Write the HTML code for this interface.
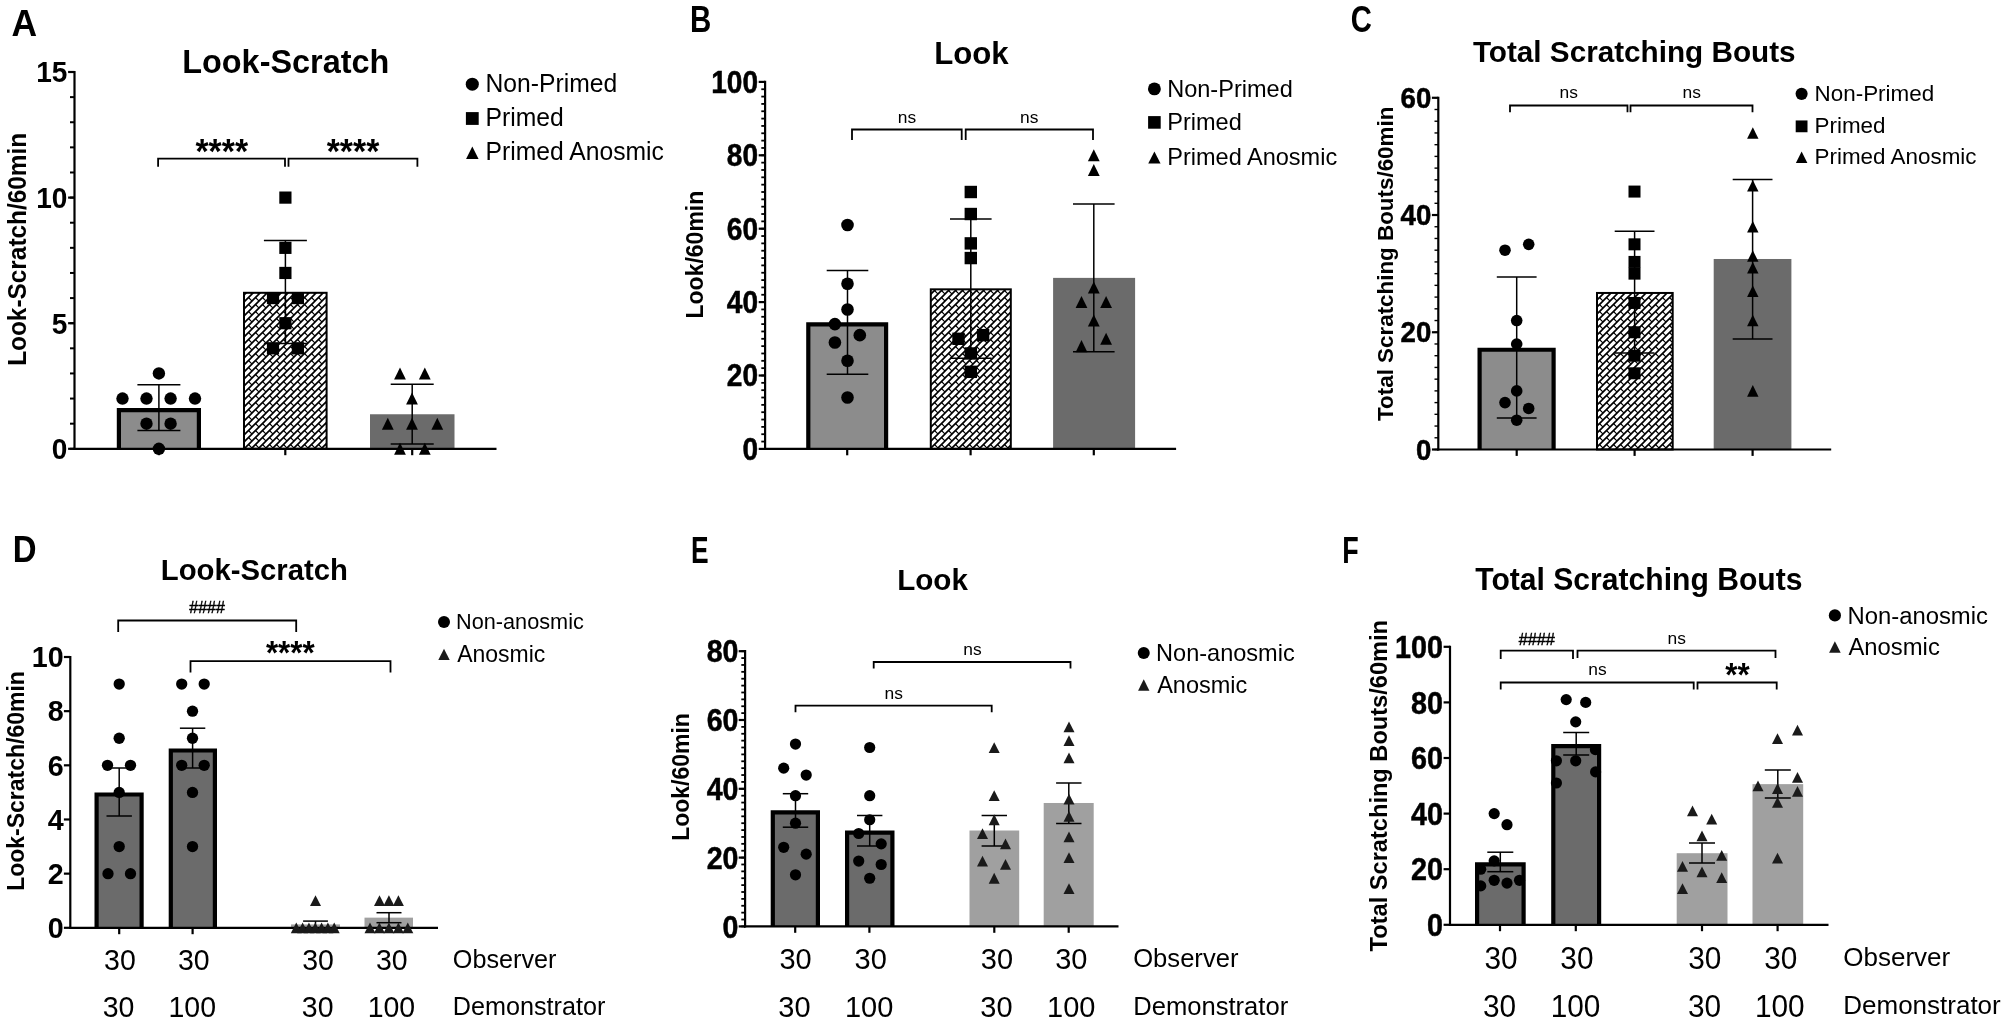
<!DOCTYPE html>
<html lang="en"><head><meta charset="utf-8"><title>Figure</title>
<style>
html,body{margin:0;padding:0;background:#fff;}
body{width:2007px;height:1024px;overflow:hidden;}
svg{display:block;font-family:'Liberation Sans', sans-serif;filter:blur(0.45px);}
</style></head><body>
<svg width="2007" height="1024" viewBox="0 0 2007 1024">
<defs>
<pattern id="hatch" width="7" height="7" patternUnits="userSpaceOnUse">
<rect width="7" height="7" fill="#fff"/>
<path d="M-1 8 L8 -1 M-1 1 L1 -1 M6 8 L8 6" stroke="#000" stroke-width="1.65" fill="none"/>
<path d="M3.5 3.5 L7 7 M-3.5 -3.5 L0 0" stroke="#000" stroke-width="1.15" fill="none"/>
</pattern>
</defs>
<rect width="2007" height="1024" fill="#fff"/>
<g id="panelA">
<rect x="117.80" y="408.98" width="82.20" height="39.82" fill="#8c8c8c"/>
<polyline points="118.90,448.80 118.90,410.08 198.90,410.08 198.90,448.80" fill="none" stroke="#000" stroke-width="4.2"/>
<rect x="244.00" y="292.80" width="82.60" height="156.00" fill="url(#hatch)" stroke="#000" stroke-width="2"/>
<rect x="370.00" y="414.26" width="84.50" height="34.54" fill="#6b6b6b"/>
<line x1="74.50" y1="70.90" x2="74.50" y2="449.90" stroke="#000" stroke-width="2.2" stroke-linecap="butt"/>
<line x1="73.40" y1="448.80" x2="496.50" y2="448.80" stroke="#000" stroke-width="2.2" stroke-linecap="butt"/>
<line x1="68.10" y1="448.80" x2="74.50" y2="448.80" stroke="#000" stroke-width="2.2" stroke-linecap="butt"/>
<text font-size="30.2" font-weight="700" text-anchor="end" fill="#000" transform="translate(67.40 459.19) scale(0.93 1)">0</text>
<line x1="68.10" y1="323.20" x2="74.50" y2="323.20" stroke="#000" stroke-width="2.2" stroke-linecap="butt"/>
<text font-size="30.2" font-weight="700" text-anchor="end" fill="#000" transform="translate(67.40 333.59) scale(0.93 1)">5</text>
<line x1="68.10" y1="197.60" x2="74.50" y2="197.60" stroke="#000" stroke-width="2.2" stroke-linecap="butt"/>
<text font-size="30.2" font-weight="700" text-anchor="end" fill="#000" transform="translate(67.40 207.99) scale(0.93 1)">10</text>
<line x1="68.10" y1="72.00" x2="74.50" y2="72.00" stroke="#000" stroke-width="2.2" stroke-linecap="butt"/>
<text font-size="30.2" font-weight="700" text-anchor="end" fill="#000" transform="translate(67.40 82.39) scale(0.93 1)">15</text>
<line x1="70.00" y1="448.80" x2="74.50" y2="448.80" stroke="#000" stroke-width="2" stroke-linecap="butt"/>
<line x1="70.00" y1="423.68" x2="74.50" y2="423.68" stroke="#000" stroke-width="2" stroke-linecap="butt"/>
<line x1="70.00" y1="398.56" x2="74.50" y2="398.56" stroke="#000" stroke-width="2" stroke-linecap="butt"/>
<line x1="70.00" y1="373.44" x2="74.50" y2="373.44" stroke="#000" stroke-width="2" stroke-linecap="butt"/>
<line x1="70.00" y1="348.32" x2="74.50" y2="348.32" stroke="#000" stroke-width="2" stroke-linecap="butt"/>
<line x1="70.00" y1="323.20" x2="74.50" y2="323.20" stroke="#000" stroke-width="2" stroke-linecap="butt"/>
<line x1="70.00" y1="298.08" x2="74.50" y2="298.08" stroke="#000" stroke-width="2" stroke-linecap="butt"/>
<line x1="70.00" y1="272.96" x2="74.50" y2="272.96" stroke="#000" stroke-width="2" stroke-linecap="butt"/>
<line x1="70.00" y1="247.84" x2="74.50" y2="247.84" stroke="#000" stroke-width="2" stroke-linecap="butt"/>
<line x1="70.00" y1="222.72" x2="74.50" y2="222.72" stroke="#000" stroke-width="2" stroke-linecap="butt"/>
<line x1="70.00" y1="197.60" x2="74.50" y2="197.60" stroke="#000" stroke-width="2" stroke-linecap="butt"/>
<line x1="70.00" y1="172.48" x2="74.50" y2="172.48" stroke="#000" stroke-width="2" stroke-linecap="butt"/>
<line x1="70.00" y1="147.36" x2="74.50" y2="147.36" stroke="#000" stroke-width="2" stroke-linecap="butt"/>
<line x1="70.00" y1="122.24" x2="74.50" y2="122.24" stroke="#000" stroke-width="2" stroke-linecap="butt"/>
<line x1="70.00" y1="97.12" x2="74.50" y2="97.12" stroke="#000" stroke-width="2" stroke-linecap="butt"/>
<line x1="70.00" y1="72.00" x2="74.50" y2="72.00" stroke="#000" stroke-width="2" stroke-linecap="butt"/>
<line x1="158.90" y1="448.80" x2="158.90" y2="455.20" stroke="#000" stroke-width="2.2" stroke-linecap="butt"/>
<line x1="285.30" y1="448.80" x2="285.30" y2="455.20" stroke="#000" stroke-width="2.2" stroke-linecap="butt"/>
<line x1="412.20" y1="448.80" x2="412.20" y2="455.20" stroke="#000" stroke-width="2.2" stroke-linecap="butt"/>
<line x1="158.90" y1="384.70" x2="158.90" y2="430.50" stroke="#000" stroke-width="1.5" stroke-linecap="butt"/>
<line x1="137.40" y1="384.70" x2="180.40" y2="384.70" stroke="#000" stroke-width="1.5" stroke-linecap="butt"/>
<line x1="137.40" y1="430.50" x2="180.40" y2="430.50" stroke="#000" stroke-width="1.5" stroke-linecap="butt"/>
<line x1="285.40" y1="240.40" x2="285.40" y2="343.40" stroke="#000" stroke-width="1.5" stroke-linecap="butt"/>
<line x1="263.90" y1="240.40" x2="306.90" y2="240.40" stroke="#000" stroke-width="1.5" stroke-linecap="butt"/>
<line x1="263.90" y1="343.40" x2="306.90" y2="343.40" stroke="#000" stroke-width="1.5" stroke-linecap="butt"/>
<line x1="412.20" y1="384.20" x2="412.20" y2="443.90" stroke="#000" stroke-width="1.5" stroke-linecap="butt"/>
<line x1="390.70" y1="384.20" x2="433.70" y2="384.20" stroke="#000" stroke-width="1.5" stroke-linecap="butt"/>
<line x1="390.70" y1="443.90" x2="433.70" y2="443.90" stroke="#000" stroke-width="1.5" stroke-linecap="butt"/>
<circle cx="158.90" cy="373.44" r="6.20" fill="#000"/>
<circle cx="122.50" cy="398.56" r="6.20" fill="#000"/>
<circle cx="146.50" cy="398.56" r="6.20" fill="#000"/>
<circle cx="170.60" cy="398.56" r="6.20" fill="#000"/>
<circle cx="195.00" cy="398.56" r="6.20" fill="#000"/>
<circle cx="146.50" cy="423.68" r="6.20" fill="#000"/>
<circle cx="170.60" cy="423.68" r="6.20" fill="#000"/>
<circle cx="158.90" cy="448.80" r="6.20" fill="#000"/>
<rect x="279.30" y="191.50" width="12.20" height="12.20" fill="#000"/>
<rect x="279.30" y="241.74" width="12.20" height="12.20" fill="#000"/>
<rect x="279.30" y="266.86" width="12.20" height="12.20" fill="#000"/>
<rect x="266.90" y="291.98" width="12.20" height="12.20" fill="#000"/>
<rect x="291.80" y="291.98" width="12.20" height="12.20" fill="#000"/>
<rect x="279.30" y="317.10" width="12.20" height="12.20" fill="#000"/>
<rect x="266.90" y="342.22" width="12.20" height="12.20" fill="#000"/>
<rect x="291.80" y="342.22" width="12.20" height="12.20" fill="#000"/>
<polygon points="394.10,379.46 405.90,379.46 400.00,367.42" fill="#000"/>
<polygon points="418.90,379.46 430.70,379.46 424.80,367.42" fill="#000"/>
<polygon points="406.10,404.58 417.90,404.58 412.00,392.54" fill="#000"/>
<polygon points="381.90,429.70 393.70,429.70 387.80,417.66" fill="#000"/>
<polygon points="406.10,429.70 417.90,429.70 412.00,417.66" fill="#000"/>
<polygon points="431.40,429.70 443.20,429.70 437.30,417.66" fill="#000"/>
<polygon points="394.10,454.82 405.90,454.82 400.00,442.78" fill="#000"/>
<polygon points="418.90,454.82 430.70,454.82 424.80,442.78" fill="#000"/>
<polyline points="158.10,166.80 158.10,158.70 285.00,158.70 285.00,166.80" fill="none" stroke="#000" stroke-width="1.8"/>
<polyline points="288.50,166.80 288.50,158.70 417.40,158.70 417.40,166.80" fill="none" stroke="#000" stroke-width="1.8"/>
<text font-size="33.8" font-weight="700" text-anchor="middle" fill="#000" transform="translate(221.75 162.70) scale(1 1.04)">****</text>
<text font-size="33.8" font-weight="700" text-anchor="middle" fill="#000" transform="translate(353.00 162.70) scale(1 1.04)">****</text>
<text font-size="32.4" font-weight="700" text-anchor="middle" fill="#000" transform="translate(285.75 72.60) scale(1 1.02)">Look-Scratch</text>
<text font-size="24.4" font-weight="700" text-anchor="middle" fill="#000" transform="translate(26.30 249.30) rotate(-90) scale(1 1.02)">Look-Scratch/60min</text>
<text font-size="36.6" font-weight="700" text-anchor="start" fill="#000" transform="translate(11.60 35.70) scale(0.97 1)">A</text>
<circle cx="472.30" cy="84.20" r="6.55" fill="#000"/>
<text font-size="24.7" text-anchor="start" fill="#000" transform="translate(485.50 91.85) scale(1 1.02)">Non-Primed</text>
<rect x="465.90" y="112.10" width="12.80" height="12.80" fill="#000"/>
<text font-size="24.7" text-anchor="start" fill="#000" transform="translate(485.50 126.20) scale(1 1.02)">Primed</text>
<polygon points="466.05,159.00 478.55,159.00 472.30,146.60" fill="#000"/>
<text font-size="24.7" text-anchor="start" fill="#000" transform="translate(485.50 160.40) scale(1 1.02)">Primed Anosmic</text>
</g>
<g id="panelB">
<rect x="807.20" y="323.28" width="80.00" height="125.62" fill="#8c8c8c"/>
<polyline points="808.30,448.90 808.30,324.38 886.10,324.38 886.10,448.90" fill="none" stroke="#000" stroke-width="4.2"/>
<rect x="930.80" y="289.34" width="80.00" height="159.56" fill="url(#hatch)" stroke="#000" stroke-width="2"/>
<rect x="1053.10" y="277.88" width="82.00" height="171.02" fill="#6b6b6b"/>
<line x1="765.10" y1="80.80" x2="765.10" y2="450.00" stroke="#000" stroke-width="2.2" stroke-linecap="butt"/>
<line x1="764.00" y1="448.90" x2="1176.10" y2="448.90" stroke="#000" stroke-width="2.2" stroke-linecap="butt"/>
<line x1="758.70" y1="448.90" x2="765.10" y2="448.90" stroke="#000" stroke-width="2.2" stroke-linecap="butt"/>
<text font-size="30.7" font-weight="700" text-anchor="end" fill="#000" stroke="#000" stroke-width="0.5" transform="translate(758.10 459.76) scale(0.915 1)">0</text>
<line x1="758.70" y1="375.50" x2="765.10" y2="375.50" stroke="#000" stroke-width="2.2" stroke-linecap="butt"/>
<text font-size="30.7" font-weight="700" text-anchor="end" fill="#000" stroke="#000" stroke-width="0.5" transform="translate(758.10 386.36) scale(0.915 1)">20</text>
<line x1="758.70" y1="302.10" x2="765.10" y2="302.10" stroke="#000" stroke-width="2.2" stroke-linecap="butt"/>
<text font-size="30.7" font-weight="700" text-anchor="end" fill="#000" stroke="#000" stroke-width="0.5" transform="translate(758.10 312.96) scale(0.915 1)">40</text>
<line x1="758.70" y1="228.70" x2="765.10" y2="228.70" stroke="#000" stroke-width="2.2" stroke-linecap="butt"/>
<text font-size="30.7" font-weight="700" text-anchor="end" fill="#000" stroke="#000" stroke-width="0.5" transform="translate(758.10 239.56) scale(0.915 1)">60</text>
<line x1="758.70" y1="155.30" x2="765.10" y2="155.30" stroke="#000" stroke-width="2.2" stroke-linecap="butt"/>
<text font-size="30.7" font-weight="700" text-anchor="end" fill="#000" stroke="#000" stroke-width="0.5" transform="translate(758.10 166.16) scale(0.915 1)">80</text>
<line x1="758.70" y1="81.90" x2="765.10" y2="81.90" stroke="#000" stroke-width="2.2" stroke-linecap="butt"/>
<text font-size="30.7" font-weight="700" text-anchor="end" fill="#000" stroke="#000" stroke-width="0.5" transform="translate(758.10 92.76) scale(0.915 1)">100</text>
<line x1="761.30" y1="448.90" x2="765.10" y2="448.90" stroke="#000" stroke-width="1.8" stroke-linecap="butt"/>
<line x1="761.30" y1="441.56" x2="765.10" y2="441.56" stroke="#000" stroke-width="1.8" stroke-linecap="butt"/>
<line x1="761.30" y1="434.22" x2="765.10" y2="434.22" stroke="#000" stroke-width="1.8" stroke-linecap="butt"/>
<line x1="761.30" y1="426.88" x2="765.10" y2="426.88" stroke="#000" stroke-width="1.8" stroke-linecap="butt"/>
<line x1="761.30" y1="419.54" x2="765.10" y2="419.54" stroke="#000" stroke-width="1.8" stroke-linecap="butt"/>
<line x1="761.30" y1="412.20" x2="765.10" y2="412.20" stroke="#000" stroke-width="1.8" stroke-linecap="butt"/>
<line x1="761.30" y1="404.86" x2="765.10" y2="404.86" stroke="#000" stroke-width="1.8" stroke-linecap="butt"/>
<line x1="761.30" y1="397.52" x2="765.10" y2="397.52" stroke="#000" stroke-width="1.8" stroke-linecap="butt"/>
<line x1="761.30" y1="390.18" x2="765.10" y2="390.18" stroke="#000" stroke-width="1.8" stroke-linecap="butt"/>
<line x1="761.30" y1="382.84" x2="765.10" y2="382.84" stroke="#000" stroke-width="1.8" stroke-linecap="butt"/>
<line x1="761.30" y1="375.50" x2="765.10" y2="375.50" stroke="#000" stroke-width="1.8" stroke-linecap="butt"/>
<line x1="761.30" y1="368.16" x2="765.10" y2="368.16" stroke="#000" stroke-width="1.8" stroke-linecap="butt"/>
<line x1="761.30" y1="360.82" x2="765.10" y2="360.82" stroke="#000" stroke-width="1.8" stroke-linecap="butt"/>
<line x1="761.30" y1="353.48" x2="765.10" y2="353.48" stroke="#000" stroke-width="1.8" stroke-linecap="butt"/>
<line x1="761.30" y1="346.14" x2="765.10" y2="346.14" stroke="#000" stroke-width="1.8" stroke-linecap="butt"/>
<line x1="761.30" y1="338.80" x2="765.10" y2="338.80" stroke="#000" stroke-width="1.8" stroke-linecap="butt"/>
<line x1="761.30" y1="331.46" x2="765.10" y2="331.46" stroke="#000" stroke-width="1.8" stroke-linecap="butt"/>
<line x1="761.30" y1="324.12" x2="765.10" y2="324.12" stroke="#000" stroke-width="1.8" stroke-linecap="butt"/>
<line x1="761.30" y1="316.78" x2="765.10" y2="316.78" stroke="#000" stroke-width="1.8" stroke-linecap="butt"/>
<line x1="761.30" y1="309.44" x2="765.10" y2="309.44" stroke="#000" stroke-width="1.8" stroke-linecap="butt"/>
<line x1="761.30" y1="302.10" x2="765.10" y2="302.10" stroke="#000" stroke-width="1.8" stroke-linecap="butt"/>
<line x1="761.30" y1="294.76" x2="765.10" y2="294.76" stroke="#000" stroke-width="1.8" stroke-linecap="butt"/>
<line x1="761.30" y1="287.42" x2="765.10" y2="287.42" stroke="#000" stroke-width="1.8" stroke-linecap="butt"/>
<line x1="761.30" y1="280.08" x2="765.10" y2="280.08" stroke="#000" stroke-width="1.8" stroke-linecap="butt"/>
<line x1="761.30" y1="272.74" x2="765.10" y2="272.74" stroke="#000" stroke-width="1.8" stroke-linecap="butt"/>
<line x1="761.30" y1="265.40" x2="765.10" y2="265.40" stroke="#000" stroke-width="1.8" stroke-linecap="butt"/>
<line x1="761.30" y1="258.06" x2="765.10" y2="258.06" stroke="#000" stroke-width="1.8" stroke-linecap="butt"/>
<line x1="761.30" y1="250.72" x2="765.10" y2="250.72" stroke="#000" stroke-width="1.8" stroke-linecap="butt"/>
<line x1="761.30" y1="243.38" x2="765.10" y2="243.38" stroke="#000" stroke-width="1.8" stroke-linecap="butt"/>
<line x1="761.30" y1="236.04" x2="765.10" y2="236.04" stroke="#000" stroke-width="1.8" stroke-linecap="butt"/>
<line x1="761.30" y1="228.70" x2="765.10" y2="228.70" stroke="#000" stroke-width="1.8" stroke-linecap="butt"/>
<line x1="761.30" y1="221.36" x2="765.10" y2="221.36" stroke="#000" stroke-width="1.8" stroke-linecap="butt"/>
<line x1="761.30" y1="214.02" x2="765.10" y2="214.02" stroke="#000" stroke-width="1.8" stroke-linecap="butt"/>
<line x1="761.30" y1="206.68" x2="765.10" y2="206.68" stroke="#000" stroke-width="1.8" stroke-linecap="butt"/>
<line x1="761.30" y1="199.34" x2="765.10" y2="199.34" stroke="#000" stroke-width="1.8" stroke-linecap="butt"/>
<line x1="761.30" y1="192.00" x2="765.10" y2="192.00" stroke="#000" stroke-width="1.8" stroke-linecap="butt"/>
<line x1="761.30" y1="184.66" x2="765.10" y2="184.66" stroke="#000" stroke-width="1.8" stroke-linecap="butt"/>
<line x1="761.30" y1="177.32" x2="765.10" y2="177.32" stroke="#000" stroke-width="1.8" stroke-linecap="butt"/>
<line x1="761.30" y1="169.98" x2="765.10" y2="169.98" stroke="#000" stroke-width="1.8" stroke-linecap="butt"/>
<line x1="761.30" y1="162.64" x2="765.10" y2="162.64" stroke="#000" stroke-width="1.8" stroke-linecap="butt"/>
<line x1="761.30" y1="155.30" x2="765.10" y2="155.30" stroke="#000" stroke-width="1.8" stroke-linecap="butt"/>
<line x1="761.30" y1="147.96" x2="765.10" y2="147.96" stroke="#000" stroke-width="1.8" stroke-linecap="butt"/>
<line x1="761.30" y1="140.62" x2="765.10" y2="140.62" stroke="#000" stroke-width="1.8" stroke-linecap="butt"/>
<line x1="761.30" y1="133.28" x2="765.10" y2="133.28" stroke="#000" stroke-width="1.8" stroke-linecap="butt"/>
<line x1="761.30" y1="125.94" x2="765.10" y2="125.94" stroke="#000" stroke-width="1.8" stroke-linecap="butt"/>
<line x1="761.30" y1="118.60" x2="765.10" y2="118.60" stroke="#000" stroke-width="1.8" stroke-linecap="butt"/>
<line x1="761.30" y1="111.26" x2="765.10" y2="111.26" stroke="#000" stroke-width="1.8" stroke-linecap="butt"/>
<line x1="761.30" y1="103.92" x2="765.10" y2="103.92" stroke="#000" stroke-width="1.8" stroke-linecap="butt"/>
<line x1="761.30" y1="96.58" x2="765.10" y2="96.58" stroke="#000" stroke-width="1.8" stroke-linecap="butt"/>
<line x1="761.30" y1="89.24" x2="765.10" y2="89.24" stroke="#000" stroke-width="1.8" stroke-linecap="butt"/>
<line x1="761.30" y1="81.90" x2="765.10" y2="81.90" stroke="#000" stroke-width="1.8" stroke-linecap="butt"/>
<line x1="847.20" y1="448.90" x2="847.20" y2="455.30" stroke="#000" stroke-width="2.2" stroke-linecap="butt"/>
<line x1="970.60" y1="448.90" x2="970.60" y2="455.30" stroke="#000" stroke-width="2.2" stroke-linecap="butt"/>
<line x1="1093.80" y1="448.90" x2="1093.80" y2="455.30" stroke="#000" stroke-width="2.2" stroke-linecap="butt"/>
<line x1="847.50" y1="270.60" x2="847.50" y2="374.30" stroke="#000" stroke-width="1.5" stroke-linecap="butt"/>
<line x1="826.70" y1="270.60" x2="868.30" y2="270.60" stroke="#000" stroke-width="1.5" stroke-linecap="butt"/>
<line x1="826.70" y1="374.30" x2="868.30" y2="374.30" stroke="#000" stroke-width="1.5" stroke-linecap="butt"/>
<line x1="970.80" y1="219.00" x2="970.80" y2="358.20" stroke="#000" stroke-width="1.5" stroke-linecap="butt"/>
<line x1="950.00" y1="219.00" x2="991.60" y2="219.00" stroke="#000" stroke-width="1.5" stroke-linecap="butt"/>
<line x1="950.00" y1="358.20" x2="991.60" y2="358.20" stroke="#000" stroke-width="1.5" stroke-linecap="butt"/>
<line x1="1093.80" y1="204.10" x2="1093.80" y2="351.70" stroke="#000" stroke-width="1.5" stroke-linecap="butt"/>
<line x1="1073.00" y1="204.10" x2="1114.60" y2="204.10" stroke="#000" stroke-width="1.5" stroke-linecap="butt"/>
<line x1="1073.00" y1="351.70" x2="1114.60" y2="351.70" stroke="#000" stroke-width="1.5" stroke-linecap="butt"/>
<circle cx="847.50" cy="225.03" r="6.30" fill="#000"/>
<circle cx="847.50" cy="283.75" r="6.30" fill="#000"/>
<circle cx="847.50" cy="309.44" r="6.30" fill="#000"/>
<circle cx="834.90" cy="324.12" r="6.30" fill="#000"/>
<circle cx="859.80" cy="335.13" r="6.30" fill="#000"/>
<circle cx="834.90" cy="342.47" r="6.30" fill="#000"/>
<circle cx="847.50" cy="360.82" r="6.30" fill="#000"/>
<circle cx="847.50" cy="397.52" r="6.30" fill="#000"/>
<rect x="964.60" y="185.80" width="12.40" height="12.40" fill="#000"/>
<rect x="964.60" y="207.82" width="12.40" height="12.40" fill="#000"/>
<rect x="964.60" y="237.18" width="12.40" height="12.40" fill="#000"/>
<rect x="964.60" y="251.86" width="12.40" height="12.40" fill="#000"/>
<rect x="976.90" y="328.93" width="12.40" height="12.40" fill="#000"/>
<rect x="952.30" y="332.60" width="12.40" height="12.40" fill="#000"/>
<rect x="964.60" y="347.28" width="12.40" height="12.40" fill="#000"/>
<rect x="964.60" y="365.63" width="12.40" height="12.40" fill="#000"/>
<polygon points="1087.90,161.32 1099.70,161.32 1093.80,149.28" fill="#000"/>
<polygon points="1087.90,176.00 1099.70,176.00 1093.80,163.96" fill="#000"/>
<polygon points="1087.90,293.44 1099.70,293.44 1093.80,281.40" fill="#000"/>
<polygon points="1075.60,308.12 1087.40,308.12 1081.50,296.08" fill="#000"/>
<polygon points="1100.20,308.12 1112.00,308.12 1106.10,296.08" fill="#000"/>
<polygon points="1087.90,326.47 1099.70,326.47 1093.80,314.43" fill="#000"/>
<polygon points="1100.20,344.82 1112.00,344.82 1106.10,332.78" fill="#000"/>
<polygon points="1075.60,352.16 1087.40,352.16 1081.50,340.12" fill="#000"/>
<polyline points="852.00,140.00 852.00,129.50 961.70,129.50 961.70,140.00" fill="none" stroke="#000" stroke-width="1.8"/>
<polyline points="965.70,140.00 965.70,129.50 1093.00,129.50 1093.00,140.00" fill="none" stroke="#000" stroke-width="1.8"/>
<text font-size="17.4" text-anchor="middle" fill="#000" transform="translate(907.00 122.80) scale(1 1)">ns</text>
<text font-size="17.4" text-anchor="middle" fill="#000" transform="translate(1029.20 122.80) scale(1 1)">ns</text>
<text font-size="31.2" font-weight="700" text-anchor="middle" fill="#000" transform="translate(971.40 63.90) scale(1 1.02)">Look</text>
<text font-size="23" font-weight="700" text-anchor="middle" fill="#000" transform="translate(703.00 254.60) rotate(-90) scale(1 1.02)">Look/60min</text>
<text font-size="36.4" font-weight="700" text-anchor="start" fill="#000" transform="translate(690.10 32.10) scale(0.81 1)">B</text>
<circle cx="1154.40" cy="88.90" r="6.45" fill="#000"/>
<text font-size="23.55" text-anchor="start" fill="#000" transform="translate(1167.20 96.50) scale(1 1.02)">Non-Primed</text>
<rect x="1148.10" y="116.10" width="12.60" height="12.60" fill="#000"/>
<text font-size="23.55" text-anchor="start" fill="#000" transform="translate(1167.20 130.10) scale(1 1.02)">Primed</text>
<polygon points="1148.25,163.60 1160.55,163.60 1154.40,151.40" fill="#000"/>
<text font-size="23.55" text-anchor="start" fill="#000" transform="translate(1167.20 164.50) scale(1 1.02)">Primed Anosmic</text>
</g>
<g id="panelC">
<rect x="1478.50" y="348.65" width="76.20" height="100.85" fill="#8c8c8c"/>
<polyline points="1479.60,449.50 1479.60,349.75 1553.60,349.75 1553.60,449.50" fill="none" stroke="#000" stroke-width="4.2"/>
<rect x="1597.00" y="292.96" width="75.70" height="156.54" fill="url(#hatch)" stroke="#000" stroke-width="2"/>
<rect x="1713.70" y="258.99" width="77.70" height="190.51" fill="#6b6b6b"/>
<line x1="1438.30" y1="96.68" x2="1438.30" y2="450.60" stroke="#000" stroke-width="2.2" stroke-linecap="butt"/>
<line x1="1437.20" y1="449.50" x2="1831.20" y2="449.50" stroke="#000" stroke-width="2.2" stroke-linecap="butt"/>
<line x1="1431.90" y1="449.50" x2="1438.30" y2="449.50" stroke="#000" stroke-width="2.2" stroke-linecap="butt"/>
<text font-size="28.8" font-weight="700" text-anchor="end" fill="#000" stroke="#000" stroke-width="0.5" transform="translate(1431.30 459.71) scale(0.96 1)">0</text>
<line x1="1431.90" y1="332.26" x2="1438.30" y2="332.26" stroke="#000" stroke-width="2.2" stroke-linecap="butt"/>
<text font-size="28.8" font-weight="700" text-anchor="end" fill="#000" stroke="#000" stroke-width="0.5" transform="translate(1431.30 342.47) scale(0.96 1)">20</text>
<line x1="1431.90" y1="215.02" x2="1438.30" y2="215.02" stroke="#000" stroke-width="2.2" stroke-linecap="butt"/>
<text font-size="28.8" font-weight="700" text-anchor="end" fill="#000" stroke="#000" stroke-width="0.5" transform="translate(1431.30 225.23) scale(0.96 1)">40</text>
<line x1="1431.90" y1="97.78" x2="1438.30" y2="97.78" stroke="#000" stroke-width="2.2" stroke-linecap="butt"/>
<text font-size="28.8" font-weight="700" text-anchor="end" fill="#000" stroke="#000" stroke-width="0.5" transform="translate(1431.30 107.99) scale(0.96 1)">60</text>
<line x1="1434.50" y1="449.50" x2="1438.30" y2="449.50" stroke="#000" stroke-width="1.4" stroke-linecap="butt"/>
<line x1="1434.50" y1="437.78" x2="1438.30" y2="437.78" stroke="#000" stroke-width="1.4" stroke-linecap="butt"/>
<line x1="1434.50" y1="426.05" x2="1438.30" y2="426.05" stroke="#000" stroke-width="1.4" stroke-linecap="butt"/>
<line x1="1434.50" y1="414.33" x2="1438.30" y2="414.33" stroke="#000" stroke-width="1.4" stroke-linecap="butt"/>
<line x1="1434.50" y1="402.60" x2="1438.30" y2="402.60" stroke="#000" stroke-width="1.4" stroke-linecap="butt"/>
<line x1="1434.50" y1="390.88" x2="1438.30" y2="390.88" stroke="#000" stroke-width="1.4" stroke-linecap="butt"/>
<line x1="1434.50" y1="379.16" x2="1438.30" y2="379.16" stroke="#000" stroke-width="1.4" stroke-linecap="butt"/>
<line x1="1434.50" y1="367.43" x2="1438.30" y2="367.43" stroke="#000" stroke-width="1.4" stroke-linecap="butt"/>
<line x1="1434.50" y1="355.71" x2="1438.30" y2="355.71" stroke="#000" stroke-width="1.4" stroke-linecap="butt"/>
<line x1="1434.50" y1="343.98" x2="1438.30" y2="343.98" stroke="#000" stroke-width="1.4" stroke-linecap="butt"/>
<line x1="1434.50" y1="332.26" x2="1438.30" y2="332.26" stroke="#000" stroke-width="1.4" stroke-linecap="butt"/>
<line x1="1434.50" y1="320.54" x2="1438.30" y2="320.54" stroke="#000" stroke-width="1.4" stroke-linecap="butt"/>
<line x1="1434.50" y1="308.81" x2="1438.30" y2="308.81" stroke="#000" stroke-width="1.4" stroke-linecap="butt"/>
<line x1="1434.50" y1="297.09" x2="1438.30" y2="297.09" stroke="#000" stroke-width="1.4" stroke-linecap="butt"/>
<line x1="1434.50" y1="285.36" x2="1438.30" y2="285.36" stroke="#000" stroke-width="1.4" stroke-linecap="butt"/>
<line x1="1434.50" y1="273.64" x2="1438.30" y2="273.64" stroke="#000" stroke-width="1.4" stroke-linecap="butt"/>
<line x1="1434.50" y1="261.92" x2="1438.30" y2="261.92" stroke="#000" stroke-width="1.4" stroke-linecap="butt"/>
<line x1="1434.50" y1="250.19" x2="1438.30" y2="250.19" stroke="#000" stroke-width="1.4" stroke-linecap="butt"/>
<line x1="1434.50" y1="238.47" x2="1438.30" y2="238.47" stroke="#000" stroke-width="1.4" stroke-linecap="butt"/>
<line x1="1434.50" y1="226.74" x2="1438.30" y2="226.74" stroke="#000" stroke-width="1.4" stroke-linecap="butt"/>
<line x1="1434.50" y1="215.02" x2="1438.30" y2="215.02" stroke="#000" stroke-width="1.4" stroke-linecap="butt"/>
<line x1="1434.50" y1="203.30" x2="1438.30" y2="203.30" stroke="#000" stroke-width="1.4" stroke-linecap="butt"/>
<line x1="1434.50" y1="191.57" x2="1438.30" y2="191.57" stroke="#000" stroke-width="1.4" stroke-linecap="butt"/>
<line x1="1434.50" y1="179.85" x2="1438.30" y2="179.85" stroke="#000" stroke-width="1.4" stroke-linecap="butt"/>
<line x1="1434.50" y1="168.12" x2="1438.30" y2="168.12" stroke="#000" stroke-width="1.4" stroke-linecap="butt"/>
<line x1="1434.50" y1="156.40" x2="1438.30" y2="156.40" stroke="#000" stroke-width="1.4" stroke-linecap="butt"/>
<line x1="1434.50" y1="144.68" x2="1438.30" y2="144.68" stroke="#000" stroke-width="1.4" stroke-linecap="butt"/>
<line x1="1434.50" y1="132.95" x2="1438.30" y2="132.95" stroke="#000" stroke-width="1.4" stroke-linecap="butt"/>
<line x1="1434.50" y1="121.23" x2="1438.30" y2="121.23" stroke="#000" stroke-width="1.4" stroke-linecap="butt"/>
<line x1="1434.50" y1="109.50" x2="1438.30" y2="109.50" stroke="#000" stroke-width="1.4" stroke-linecap="butt"/>
<line x1="1434.50" y1="97.78" x2="1438.30" y2="97.78" stroke="#000" stroke-width="1.4" stroke-linecap="butt"/>
<line x1="1516.70" y1="449.50" x2="1516.70" y2="455.90" stroke="#000" stroke-width="2.2" stroke-linecap="butt"/>
<line x1="1634.60" y1="449.50" x2="1634.60" y2="455.90" stroke="#000" stroke-width="2.2" stroke-linecap="butt"/>
<line x1="1752.60" y1="449.50" x2="1752.60" y2="455.90" stroke="#000" stroke-width="2.2" stroke-linecap="butt"/>
<line x1="1516.70" y1="277.00" x2="1516.70" y2="418.00" stroke="#000" stroke-width="1.5" stroke-linecap="butt"/>
<line x1="1496.80" y1="277.00" x2="1536.60" y2="277.00" stroke="#000" stroke-width="1.5" stroke-linecap="butt"/>
<line x1="1496.80" y1="418.00" x2="1536.60" y2="418.00" stroke="#000" stroke-width="1.5" stroke-linecap="butt"/>
<line x1="1634.60" y1="231.20" x2="1634.60" y2="353.00" stroke="#000" stroke-width="1.5" stroke-linecap="butt"/>
<line x1="1614.70" y1="231.20" x2="1654.50" y2="231.20" stroke="#000" stroke-width="1.5" stroke-linecap="butt"/>
<line x1="1614.70" y1="353.00" x2="1654.50" y2="353.00" stroke="#000" stroke-width="1.5" stroke-linecap="butt"/>
<line x1="1752.60" y1="179.50" x2="1752.60" y2="339.00" stroke="#000" stroke-width="1.5" stroke-linecap="butt"/>
<line x1="1732.70" y1="179.50" x2="1772.50" y2="179.50" stroke="#000" stroke-width="1.5" stroke-linecap="butt"/>
<line x1="1732.70" y1="339.00" x2="1772.50" y2="339.00" stroke="#000" stroke-width="1.5" stroke-linecap="butt"/>
<circle cx="1505.00" cy="250.19" r="5.80" fill="#000"/>
<circle cx="1528.70" cy="244.33" r="5.80" fill="#000"/>
<circle cx="1516.70" cy="320.54" r="5.80" fill="#000"/>
<circle cx="1516.70" cy="343.98" r="5.80" fill="#000"/>
<circle cx="1516.70" cy="390.88" r="5.80" fill="#000"/>
<circle cx="1505.00" cy="402.60" r="5.80" fill="#000"/>
<circle cx="1528.70" cy="408.47" r="5.80" fill="#000"/>
<circle cx="1516.70" cy="420.19" r="5.80" fill="#000"/>
<rect x="1628.50" y="185.57" width="12.00" height="12.00" fill="#000"/>
<rect x="1628.50" y="238.33" width="12.00" height="12.00" fill="#000"/>
<rect x="1628.50" y="255.92" width="12.00" height="12.00" fill="#000"/>
<rect x="1628.50" y="267.64" width="12.00" height="12.00" fill="#000"/>
<rect x="1628.50" y="296.95" width="12.00" height="12.00" fill="#000"/>
<rect x="1628.50" y="326.26" width="12.00" height="12.00" fill="#000"/>
<rect x="1628.50" y="349.71" width="12.00" height="12.00" fill="#000"/>
<rect x="1628.50" y="367.29" width="12.00" height="12.00" fill="#000"/>
<polygon points="1747.10,138.77 1758.50,138.77 1752.80,127.14" fill="#000"/>
<polygon points="1747.10,191.52 1758.50,191.52 1752.80,179.90" fill="#000"/>
<polygon points="1747.10,232.56 1758.50,232.56 1752.80,220.93" fill="#000"/>
<polygon points="1747.10,261.87 1758.50,261.87 1752.80,250.24" fill="#000"/>
<polygon points="1747.10,273.59 1758.50,273.59 1752.80,261.96" fill="#000"/>
<polygon points="1747.10,297.04 1758.50,297.04 1752.80,285.41" fill="#000"/>
<polygon points="1747.10,326.35 1758.50,326.35 1752.80,314.72" fill="#000"/>
<polygon points="1747.10,396.69 1758.50,396.69 1752.80,385.07" fill="#000"/>
<polyline points="1510.00,112.30 1510.00,105.50 1627.50,105.50 1627.50,112.30" fill="none" stroke="#000" stroke-width="1.8"/>
<polyline points="1630.50,112.30 1630.50,105.50 1752.50,105.50 1752.50,112.30" fill="none" stroke="#000" stroke-width="1.8"/>
<text font-size="17.4" text-anchor="middle" fill="#000" transform="translate(1568.70 98.30) scale(1 1)">ns</text>
<text font-size="17.4" text-anchor="middle" fill="#000" transform="translate(1691.70 98.30) scale(1 1)">ns</text>
<text font-size="29.7" font-weight="700" text-anchor="middle" fill="#000" transform="translate(1634.25 62.30) scale(1 1.02)">Total Scratching Bouts</text>
<text font-size="22.4" font-weight="700" text-anchor="middle" fill="#000" transform="translate(1393.30 263.80) rotate(-90) scale(1 1.02)">Total Scratching Bouts/60min</text>
<text font-size="37" font-weight="700" text-anchor="start" fill="#000" transform="translate(1350.70 31.70) scale(0.79 1)">C</text>
<circle cx="1801.60" cy="93.85" r="6.05" fill="#000"/>
<text font-size="22.43" text-anchor="start" fill="#000" transform="translate(1814.55 101.30) scale(1 1.02)">Non-Primed</text>
<rect x="1795.70" y="120.45" width="11.80" height="11.80" fill="#000"/>
<text font-size="22.43" text-anchor="start" fill="#000" transform="translate(1814.55 133.30) scale(1 1.02)">Primed</text>
<polygon points="1795.85,162.90 1807.35,162.90 1801.60,151.50" fill="#000"/>
<text font-size="22.43" text-anchor="start" fill="#000" transform="translate(1814.55 163.60) scale(1 1.02)">Primed Anosmic</text>
</g>
<g id="panelD">
<rect x="95.50" y="793.40" width="47.20" height="134.40" fill="#6b6b6b"/>
<polyline points="96.60,927.80 96.60,794.50 141.60,794.50 141.60,927.80" fill="none" stroke="#000" stroke-width="4.2"/>
<rect x="169.70" y="749.39" width="46.30" height="178.40" fill="#6b6b6b"/>
<polyline points="170.80,927.80 170.80,750.50 214.90,750.50 214.90,927.80" fill="none" stroke="#000" stroke-width="4.2"/>
<rect x="291.00" y="924.41" width="49.00" height="3.38" fill="#a0a0a0"/>
<rect x="364.50" y="917.64" width="48.50" height="10.15" fill="#a0a0a0"/>
<line x1="70.30" y1="655.90" x2="70.30" y2="928.90" stroke="#000" stroke-width="2.2" stroke-linecap="butt"/>
<line x1="69.20" y1="927.80" x2="438.00" y2="927.80" stroke="#000" stroke-width="2.2" stroke-linecap="butt"/>
<line x1="63.90" y1="927.80" x2="70.30" y2="927.80" stroke="#000" stroke-width="2.2" stroke-linecap="butt"/>
<text font-size="29.9" font-weight="700" text-anchor="end" fill="#000" transform="translate(63.60 938.09) scale(0.96 1)">0</text>
<line x1="63.90" y1="873.64" x2="70.30" y2="873.64" stroke="#000" stroke-width="2.2" stroke-linecap="butt"/>
<text font-size="29.9" font-weight="700" text-anchor="end" fill="#000" transform="translate(63.60 883.93) scale(0.96 1)">2</text>
<line x1="63.90" y1="819.48" x2="70.30" y2="819.48" stroke="#000" stroke-width="2.2" stroke-linecap="butt"/>
<text font-size="29.9" font-weight="700" text-anchor="end" fill="#000" transform="translate(63.60 829.77) scale(0.96 1)">4</text>
<line x1="63.90" y1="765.32" x2="70.30" y2="765.32" stroke="#000" stroke-width="2.2" stroke-linecap="butt"/>
<text font-size="29.9" font-weight="700" text-anchor="end" fill="#000" transform="translate(63.60 775.61) scale(0.96 1)">6</text>
<line x1="63.90" y1="711.16" x2="70.30" y2="711.16" stroke="#000" stroke-width="2.2" stroke-linecap="butt"/>
<text font-size="29.9" font-weight="700" text-anchor="end" fill="#000" transform="translate(63.60 721.45) scale(0.96 1)">8</text>
<line x1="63.90" y1="657.00" x2="70.30" y2="657.00" stroke="#000" stroke-width="2.2" stroke-linecap="butt"/>
<text font-size="29.9" font-weight="700" text-anchor="end" fill="#000" transform="translate(63.60 667.29) scale(0.96 1)">10</text>
<line x1="119.20" y1="927.80" x2="119.20" y2="934.20" stroke="#000" stroke-width="2.2" stroke-linecap="butt"/>
<line x1="192.60" y1="927.80" x2="192.60" y2="934.20" stroke="#000" stroke-width="2.2" stroke-linecap="butt"/>
<line x1="119.20" y1="768.00" x2="119.20" y2="816.00" stroke="#000" stroke-width="1.5" stroke-linecap="butt"/>
<line x1="106.50" y1="768.00" x2="131.90" y2="768.00" stroke="#000" stroke-width="1.5" stroke-linecap="butt"/>
<line x1="106.50" y1="816.00" x2="131.90" y2="816.00" stroke="#000" stroke-width="1.5" stroke-linecap="butt"/>
<line x1="192.60" y1="728.20" x2="192.60" y2="768.00" stroke="#000" stroke-width="1.5" stroke-linecap="butt"/>
<line x1="179.90" y1="728.20" x2="205.30" y2="728.20" stroke="#000" stroke-width="1.5" stroke-linecap="butt"/>
<line x1="179.90" y1="768.00" x2="205.30" y2="768.00" stroke="#000" stroke-width="1.5" stroke-linecap="butt"/>
<line x1="315.50" y1="921.10" x2="315.50" y2="928.10" stroke="#000" stroke-width="1.5" stroke-linecap="butt"/>
<line x1="303.10" y1="921.10" x2="327.90" y2="921.10" stroke="#000" stroke-width="1.5" stroke-linecap="butt"/>
<line x1="389.00" y1="912.70" x2="389.00" y2="922.70" stroke="#000" stroke-width="1.5" stroke-linecap="butt"/>
<line x1="376.50" y1="912.70" x2="401.50" y2="912.70" stroke="#000" stroke-width="1.5" stroke-linecap="butt"/>
<line x1="376.50" y1="922.70" x2="401.50" y2="922.70" stroke="#000" stroke-width="1.5" stroke-linecap="butt"/>
<circle cx="119.20" cy="684.08" r="5.65" fill="#000"/>
<circle cx="119.20" cy="738.24" r="5.65" fill="#000"/>
<circle cx="107.50" cy="765.32" r="5.65" fill="#000"/>
<circle cx="130.50" cy="765.32" r="5.65" fill="#000"/>
<circle cx="119.20" cy="792.40" r="5.65" fill="#000"/>
<circle cx="119.20" cy="846.56" r="5.65" fill="#000"/>
<circle cx="108.00" cy="873.64" r="5.65" fill="#000"/>
<circle cx="130.50" cy="873.64" r="5.65" fill="#000"/>
<circle cx="181.70" cy="684.08" r="5.65" fill="#000"/>
<circle cx="204.20" cy="684.08" r="5.65" fill="#000"/>
<circle cx="192.50" cy="711.16" r="5.65" fill="#000"/>
<circle cx="192.50" cy="738.24" r="5.65" fill="#000"/>
<circle cx="181.70" cy="765.32" r="5.65" fill="#000"/>
<circle cx="204.20" cy="765.32" r="5.65" fill="#000"/>
<circle cx="192.50" cy="792.40" r="5.65" fill="#000"/>
<circle cx="192.50" cy="846.56" r="5.65" fill="#000"/>
<polygon points="310.00,906.11 321.00,906.11 315.50,895.33" fill="#1a1a1a"/>
<polygon points="290.80,933.19 301.80,933.19 296.30,922.41" fill="#1a1a1a"/>
<polygon points="297.12,933.19 308.12,933.19 302.62,922.41" fill="#1a1a1a"/>
<polygon points="303.44,933.19 314.44,933.19 308.94,922.41" fill="#1a1a1a"/>
<polygon points="309.76,933.19 320.76,933.19 315.26,922.41" fill="#1a1a1a"/>
<polygon points="316.08,933.19 327.08,933.19 321.58,922.41" fill="#1a1a1a"/>
<polygon points="322.40,933.19 333.40,933.19 327.90,922.41" fill="#1a1a1a"/>
<polygon points="328.72,933.19 339.72,933.19 334.22,922.41" fill="#1a1a1a"/>
<polygon points="374.00,906.11 385.00,906.11 379.50,895.33" fill="#1a1a1a"/>
<polygon points="383.40,906.11 394.40,906.11 388.90,895.33" fill="#1a1a1a"/>
<polygon points="392.90,906.11 403.90,906.11 398.40,895.33" fill="#1a1a1a"/>
<polygon points="364.50,933.19 375.50,933.19 370.00,922.41" fill="#1a1a1a"/>
<polygon points="373.90,933.19 384.90,933.19 379.40,922.41" fill="#1a1a1a"/>
<polygon points="383.40,933.19 394.40,933.19 388.90,922.41" fill="#1a1a1a"/>
<polygon points="392.90,933.19 403.90,933.19 398.40,922.41" fill="#1a1a1a"/>
<polygon points="402.30,933.19 413.30,933.19 407.80,922.41" fill="#1a1a1a"/>
<polyline points="118.20,632.00 118.20,620.50 296.20,620.50 296.20,632.00" fill="none" stroke="#000" stroke-width="1.8"/>
<polyline points="190.50,672.50 190.50,661.20 390.50,661.20 390.50,672.50" fill="none" stroke="#000" stroke-width="1.8"/>
<text font-size="16" text-anchor="middle" fill="#000" stroke="#000" stroke-width="0.45" transform="translate(207.10 613.00) scale(1 1.04)">####</text>
<text font-size="31.3" font-weight="700" text-anchor="middle" fill="#000" transform="translate(290.30 664.10) scale(1 1.04)">****</text>
<text font-size="29.3" font-weight="700" text-anchor="middle" fill="#000" transform="translate(254.30 580.10) scale(1 1.02)">Look-Scratch</text>
<text font-size="23" font-weight="700" text-anchor="middle" fill="#000" transform="translate(24.40 781.00) rotate(-90) scale(1 1.02)">Look-Scratch/60min</text>
<text font-size="36.2" font-weight="700" text-anchor="start" fill="#000" transform="translate(12.70 561.90) scale(0.91 1)">D</text>
<circle cx="444.00" cy="622.10" r="6.00" fill="#000"/>
<text font-size="21.7" text-anchor="start" fill="#000" transform="translate(456.05 629.40) scale(1 1.02)">Non-anosmic</text>
<polygon points="438.30,660.05 449.70,660.05 444.00,648.75" fill="#1a1a1a"/>
<text font-size="23.0" text-anchor="start" fill="#000" transform="translate(457.20 662.30) scale(1 1.02)">Anosmic</text>
<text font-size="28.5" text-anchor="middle" fill="#000" transform="translate(119.90 969.50) scale(1 1.04)">30</text>
<text font-size="28.5" text-anchor="middle" fill="#000" transform="translate(193.80 969.50) scale(1 1.04)">30</text>
<text font-size="28.5" text-anchor="middle" fill="#000" transform="translate(318.10 969.50) scale(1 1.04)">30</text>
<text font-size="28.5" text-anchor="middle" fill="#000" transform="translate(391.80 969.50) scale(1 1.04)">30</text>
<text font-size="28.5" text-anchor="middle" fill="#000" transform="translate(118.50 1016.70) scale(1 1.04)">30</text>
<text font-size="28.5" text-anchor="middle" fill="#000" transform="translate(192.30 1016.70) scale(1 1.04)">100</text>
<text font-size="28.5" text-anchor="middle" fill="#000" transform="translate(317.70 1016.70) scale(1 1.04)">30</text>
<text font-size="28.5" text-anchor="middle" fill="#000" transform="translate(391.40 1016.70) scale(1 1.04)">100</text>
<text font-size="25.2" text-anchor="start" fill="#000" transform="translate(452.80 967.80) scale(1 1.02)">Observer</text>
<text font-size="25.2" text-anchor="start" fill="#000" transform="translate(452.80 1014.50) scale(1 1.02)">Demonstrator</text>
</g>
<g id="panelE">
<rect x="771.70" y="811.30" width="47.30" height="115.10" fill="#6b6b6b"/>
<polyline points="772.80,926.40 772.80,812.40 817.90,812.40 817.90,926.40" fill="none" stroke="#000" stroke-width="4.2"/>
<rect x="846.00" y="831.51" width="47.50" height="94.89" fill="#6b6b6b"/>
<polyline points="847.10,926.40 847.10,832.61 892.40,832.61 892.40,926.40" fill="none" stroke="#000" stroke-width="4.2"/>
<rect x="969.50" y="830.51" width="49.70" height="95.89" fill="#a0a0a0"/>
<rect x="1043.70" y="802.99" width="50.00" height="123.41" fill="#a0a0a0"/>
<line x1="745.10" y1="650.10" x2="745.10" y2="927.50" stroke="#000" stroke-width="2.2" stroke-linecap="butt"/>
<line x1="744.00" y1="926.40" x2="1118.50" y2="926.40" stroke="#000" stroke-width="2.2" stroke-linecap="butt"/>
<line x1="738.70" y1="926.40" x2="745.10" y2="926.40" stroke="#000" stroke-width="2.2" stroke-linecap="butt"/>
<text font-size="31.4" font-weight="700" text-anchor="end" fill="#000" stroke="#000" stroke-width="0.5" transform="translate(738.50 937.50) scale(0.91 1)">0</text>
<line x1="738.70" y1="857.60" x2="745.10" y2="857.60" stroke="#000" stroke-width="2.2" stroke-linecap="butt"/>
<text font-size="31.4" font-weight="700" text-anchor="end" fill="#000" stroke="#000" stroke-width="0.5" transform="translate(738.50 868.70) scale(0.91 1)">20</text>
<line x1="738.70" y1="788.80" x2="745.10" y2="788.80" stroke="#000" stroke-width="2.2" stroke-linecap="butt"/>
<text font-size="31.4" font-weight="700" text-anchor="end" fill="#000" stroke="#000" stroke-width="0.5" transform="translate(738.50 799.90) scale(0.91 1)">40</text>
<line x1="738.70" y1="720.00" x2="745.10" y2="720.00" stroke="#000" stroke-width="2.2" stroke-linecap="butt"/>
<text font-size="31.4" font-weight="700" text-anchor="end" fill="#000" stroke="#000" stroke-width="0.5" transform="translate(738.50 731.10) scale(0.91 1)">60</text>
<line x1="738.70" y1="651.20" x2="745.10" y2="651.20" stroke="#000" stroke-width="2.2" stroke-linecap="butt"/>
<text font-size="31.4" font-weight="700" text-anchor="end" fill="#000" stroke="#000" stroke-width="0.5" transform="translate(738.50 662.30) scale(0.91 1)">80</text>
<line x1="741.30" y1="926.40" x2="745.10" y2="926.40" stroke="#000" stroke-width="1.8" stroke-linecap="butt"/>
<line x1="741.30" y1="919.52" x2="745.10" y2="919.52" stroke="#000" stroke-width="1.8" stroke-linecap="butt"/>
<line x1="741.30" y1="912.64" x2="745.10" y2="912.64" stroke="#000" stroke-width="1.8" stroke-linecap="butt"/>
<line x1="741.30" y1="905.76" x2="745.10" y2="905.76" stroke="#000" stroke-width="1.8" stroke-linecap="butt"/>
<line x1="741.30" y1="898.88" x2="745.10" y2="898.88" stroke="#000" stroke-width="1.8" stroke-linecap="butt"/>
<line x1="741.30" y1="892.00" x2="745.10" y2="892.00" stroke="#000" stroke-width="1.8" stroke-linecap="butt"/>
<line x1="741.30" y1="885.12" x2="745.10" y2="885.12" stroke="#000" stroke-width="1.8" stroke-linecap="butt"/>
<line x1="741.30" y1="878.24" x2="745.10" y2="878.24" stroke="#000" stroke-width="1.8" stroke-linecap="butt"/>
<line x1="741.30" y1="871.36" x2="745.10" y2="871.36" stroke="#000" stroke-width="1.8" stroke-linecap="butt"/>
<line x1="741.30" y1="864.48" x2="745.10" y2="864.48" stroke="#000" stroke-width="1.8" stroke-linecap="butt"/>
<line x1="741.30" y1="857.60" x2="745.10" y2="857.60" stroke="#000" stroke-width="1.8" stroke-linecap="butt"/>
<line x1="741.30" y1="850.72" x2="745.10" y2="850.72" stroke="#000" stroke-width="1.8" stroke-linecap="butt"/>
<line x1="741.30" y1="843.84" x2="745.10" y2="843.84" stroke="#000" stroke-width="1.8" stroke-linecap="butt"/>
<line x1="741.30" y1="836.96" x2="745.10" y2="836.96" stroke="#000" stroke-width="1.8" stroke-linecap="butt"/>
<line x1="741.30" y1="830.08" x2="745.10" y2="830.08" stroke="#000" stroke-width="1.8" stroke-linecap="butt"/>
<line x1="741.30" y1="823.20" x2="745.10" y2="823.20" stroke="#000" stroke-width="1.8" stroke-linecap="butt"/>
<line x1="741.30" y1="816.32" x2="745.10" y2="816.32" stroke="#000" stroke-width="1.8" stroke-linecap="butt"/>
<line x1="741.30" y1="809.44" x2="745.10" y2="809.44" stroke="#000" stroke-width="1.8" stroke-linecap="butt"/>
<line x1="741.30" y1="802.56" x2="745.10" y2="802.56" stroke="#000" stroke-width="1.8" stroke-linecap="butt"/>
<line x1="741.30" y1="795.68" x2="745.10" y2="795.68" stroke="#000" stroke-width="1.8" stroke-linecap="butt"/>
<line x1="741.30" y1="788.80" x2="745.10" y2="788.80" stroke="#000" stroke-width="1.8" stroke-linecap="butt"/>
<line x1="741.30" y1="781.92" x2="745.10" y2="781.92" stroke="#000" stroke-width="1.8" stroke-linecap="butt"/>
<line x1="741.30" y1="775.04" x2="745.10" y2="775.04" stroke="#000" stroke-width="1.8" stroke-linecap="butt"/>
<line x1="741.30" y1="768.16" x2="745.10" y2="768.16" stroke="#000" stroke-width="1.8" stroke-linecap="butt"/>
<line x1="741.30" y1="761.28" x2="745.10" y2="761.28" stroke="#000" stroke-width="1.8" stroke-linecap="butt"/>
<line x1="741.30" y1="754.40" x2="745.10" y2="754.40" stroke="#000" stroke-width="1.8" stroke-linecap="butt"/>
<line x1="741.30" y1="747.52" x2="745.10" y2="747.52" stroke="#000" stroke-width="1.8" stroke-linecap="butt"/>
<line x1="741.30" y1="740.64" x2="745.10" y2="740.64" stroke="#000" stroke-width="1.8" stroke-linecap="butt"/>
<line x1="741.30" y1="733.76" x2="745.10" y2="733.76" stroke="#000" stroke-width="1.8" stroke-linecap="butt"/>
<line x1="741.30" y1="726.88" x2="745.10" y2="726.88" stroke="#000" stroke-width="1.8" stroke-linecap="butt"/>
<line x1="741.30" y1="720.00" x2="745.10" y2="720.00" stroke="#000" stroke-width="1.8" stroke-linecap="butt"/>
<line x1="741.30" y1="713.12" x2="745.10" y2="713.12" stroke="#000" stroke-width="1.8" stroke-linecap="butt"/>
<line x1="741.30" y1="706.24" x2="745.10" y2="706.24" stroke="#000" stroke-width="1.8" stroke-linecap="butt"/>
<line x1="741.30" y1="699.36" x2="745.10" y2="699.36" stroke="#000" stroke-width="1.8" stroke-linecap="butt"/>
<line x1="741.30" y1="692.48" x2="745.10" y2="692.48" stroke="#000" stroke-width="1.8" stroke-linecap="butt"/>
<line x1="741.30" y1="685.60" x2="745.10" y2="685.60" stroke="#000" stroke-width="1.8" stroke-linecap="butt"/>
<line x1="741.30" y1="678.72" x2="745.10" y2="678.72" stroke="#000" stroke-width="1.8" stroke-linecap="butt"/>
<line x1="741.30" y1="671.84" x2="745.10" y2="671.84" stroke="#000" stroke-width="1.8" stroke-linecap="butt"/>
<line x1="741.30" y1="664.96" x2="745.10" y2="664.96" stroke="#000" stroke-width="1.8" stroke-linecap="butt"/>
<line x1="741.30" y1="658.08" x2="745.10" y2="658.08" stroke="#000" stroke-width="1.8" stroke-linecap="butt"/>
<line x1="741.30" y1="651.20" x2="745.10" y2="651.20" stroke="#000" stroke-width="1.8" stroke-linecap="butt"/>
<line x1="795.20" y1="926.40" x2="795.20" y2="932.80" stroke="#000" stroke-width="2.2" stroke-linecap="butt"/>
<line x1="869.40" y1="926.40" x2="869.40" y2="932.80" stroke="#000" stroke-width="2.2" stroke-linecap="butt"/>
<line x1="994.30" y1="926.40" x2="994.30" y2="932.80" stroke="#000" stroke-width="2.2" stroke-linecap="butt"/>
<line x1="1068.70" y1="926.40" x2="1068.70" y2="932.80" stroke="#000" stroke-width="2.2" stroke-linecap="butt"/>
<line x1="795.50" y1="793.70" x2="795.50" y2="827.20" stroke="#000" stroke-width="1.5" stroke-linecap="butt"/>
<line x1="782.80" y1="793.70" x2="808.20" y2="793.70" stroke="#000" stroke-width="1.5" stroke-linecap="butt"/>
<line x1="782.80" y1="827.20" x2="808.20" y2="827.20" stroke="#000" stroke-width="1.5" stroke-linecap="butt"/>
<line x1="869.70" y1="815.50" x2="869.70" y2="846.00" stroke="#000" stroke-width="1.5" stroke-linecap="butt"/>
<line x1="857.00" y1="815.50" x2="882.40" y2="815.50" stroke="#000" stroke-width="1.5" stroke-linecap="butt"/>
<line x1="857.00" y1="846.00" x2="882.40" y2="846.00" stroke="#000" stroke-width="1.5" stroke-linecap="butt"/>
<line x1="994.30" y1="815.50" x2="994.30" y2="846.00" stroke="#000" stroke-width="1.5" stroke-linecap="butt"/>
<line x1="981.60" y1="815.50" x2="1007.00" y2="815.50" stroke="#000" stroke-width="1.5" stroke-linecap="butt"/>
<line x1="981.60" y1="846.00" x2="1007.00" y2="846.00" stroke="#000" stroke-width="1.5" stroke-linecap="butt"/>
<line x1="1068.80" y1="783.00" x2="1068.80" y2="823.50" stroke="#000" stroke-width="1.5" stroke-linecap="butt"/>
<line x1="1056.10" y1="783.00" x2="1081.50" y2="783.00" stroke="#000" stroke-width="1.5" stroke-linecap="butt"/>
<line x1="1056.10" y1="823.50" x2="1081.50" y2="823.50" stroke="#000" stroke-width="1.5" stroke-linecap="butt"/>
<circle cx="795.50" cy="744.08" r="5.60" fill="#000"/>
<circle cx="783.70" cy="768.16" r="5.60" fill="#000"/>
<circle cx="806.20" cy="775.04" r="5.60" fill="#000"/>
<circle cx="795.50" cy="795.68" r="5.60" fill="#000"/>
<circle cx="795.50" cy="823.20" r="5.60" fill="#000"/>
<circle cx="783.70" cy="847.28" r="5.60" fill="#000"/>
<circle cx="806.20" cy="854.16" r="5.60" fill="#000"/>
<circle cx="795.50" cy="874.80" r="5.60" fill="#000"/>
<circle cx="869.70" cy="747.52" r="5.60" fill="#000"/>
<circle cx="869.70" cy="795.68" r="5.60" fill="#000"/>
<circle cx="869.70" cy="819.76" r="5.60" fill="#000"/>
<circle cx="858.70" cy="833.52" r="5.60" fill="#000"/>
<circle cx="881.20" cy="843.84" r="5.60" fill="#000"/>
<circle cx="858.70" cy="861.04" r="5.60" fill="#000"/>
<circle cx="881.20" cy="864.48" r="5.60" fill="#000"/>
<circle cx="869.70" cy="878.24" r="5.60" fill="#000"/>
<polygon points="988.70,752.91 999.70,752.91 994.20,742.13" fill="#1a1a1a"/>
<polygon points="988.70,801.07 999.70,801.07 994.20,790.29" fill="#1a1a1a"/>
<polygon points="988.70,825.15 999.70,825.15 994.20,814.37" fill="#1a1a1a"/>
<polygon points="977.00,838.91 988.00,838.91 982.50,828.13" fill="#1a1a1a"/>
<polygon points="1000.00,849.23 1011.00,849.23 1005.50,838.45" fill="#1a1a1a"/>
<polygon points="977.00,866.43 988.00,866.43 982.50,855.65" fill="#1a1a1a"/>
<polygon points="1000.00,869.87 1011.00,869.87 1005.50,859.09" fill="#1a1a1a"/>
<polygon points="988.70,883.63 999.70,883.63 994.20,872.85" fill="#1a1a1a"/>
<polygon points="1063.50,732.27 1074.50,732.27 1069.00,721.49" fill="#1a1a1a"/>
<polygon points="1063.50,746.03 1074.50,746.03 1069.00,735.25" fill="#1a1a1a"/>
<polygon points="1063.50,763.23 1074.50,763.23 1069.00,752.45" fill="#1a1a1a"/>
<polygon points="1063.50,804.51 1074.50,804.51 1069.00,793.73" fill="#1a1a1a"/>
<polygon points="1063.50,821.71 1074.50,821.71 1069.00,810.93" fill="#1a1a1a"/>
<polygon points="1063.50,842.35 1074.50,842.35 1069.00,831.57" fill="#1a1a1a"/>
<polygon points="1063.50,862.99 1074.50,862.99 1069.00,852.21" fill="#1a1a1a"/>
<polygon points="1063.50,893.95 1074.50,893.95 1069.00,883.17" fill="#1a1a1a"/>
<polyline points="873.70,668.50 873.70,662.00 1070.50,662.00 1070.50,668.50" fill="none" stroke="#000" stroke-width="1.8"/>
<polyline points="795.50,712.20 795.50,705.70 991.70,705.70 991.70,712.20" fill="none" stroke="#000" stroke-width="1.8"/>
<text font-size="17.4" text-anchor="middle" fill="#000" transform="translate(972.50 655.30) scale(1 1)">ns</text>
<text font-size="17.4" text-anchor="middle" fill="#000" transform="translate(893.70 699.00) scale(1 1)">ns</text>
<text font-size="29.6" font-weight="700" text-anchor="middle" fill="#000" transform="translate(932.55 589.80) scale(1 1.02)">Look</text>
<text font-size="23" font-weight="700" text-anchor="middle" fill="#000" transform="translate(688.70 777.00) rotate(-90) scale(1 1.02)">Look/60min</text>
<text font-size="36.4" font-weight="700" text-anchor="start" fill="#000" transform="translate(691.10 562.80) scale(0.725 1)">E</text>
<circle cx="1143.75" cy="653.10" r="6.00" fill="#000"/>
<text font-size="23.55" text-anchor="start" fill="#000" transform="translate(1156.10 661.10) scale(1 1.02)">Non-anosmic</text>
<polygon points="1138.05,690.65 1149.45,690.65 1143.75,679.35" fill="#1a1a1a"/>
<text font-size="23.5" text-anchor="start" fill="#000" transform="translate(1157.20 693.00) scale(1 1.02)">Anosmic</text>
<text font-size="29" text-anchor="middle" fill="#000" transform="translate(795.60 969.30) scale(1 1.04)">30</text>
<text font-size="29" text-anchor="middle" fill="#000" transform="translate(870.70 969.30) scale(1 1.04)">30</text>
<text font-size="29" text-anchor="middle" fill="#000" transform="translate(996.90 969.30) scale(1 1.04)">30</text>
<text font-size="29" text-anchor="middle" fill="#000" transform="translate(1071.30 969.30) scale(1 1.04)">30</text>
<text font-size="29" text-anchor="middle" fill="#000" transform="translate(794.40 1017.00) scale(1 1.04)">30</text>
<text font-size="29" text-anchor="middle" fill="#000" transform="translate(869.10 1017.00) scale(1 1.04)">100</text>
<text font-size="29" text-anchor="middle" fill="#000" transform="translate(996.50 1017.00) scale(1 1.04)">30</text>
<text font-size="29" text-anchor="middle" fill="#000" transform="translate(1071.20 1017.00) scale(1 1.04)">100</text>
<text font-size="25.6" text-anchor="start" fill="#000" transform="translate(1133.20 966.60) scale(1 1.02)">Observer</text>
<text font-size="25.6" text-anchor="start" fill="#000" transform="translate(1133.20 1014.50) scale(1 1.02)">Demonstrator</text>
</g>
<g id="panelF">
<rect x="1476.00" y="863.25" width="48.70" height="61.55" fill="#6b6b6b"/>
<polyline points="1477.10,924.80 1477.10,864.35 1523.60,864.35 1523.60,924.80" fill="none" stroke="#000" stroke-width="4.2"/>
<rect x="1552.20" y="745.10" width="48.00" height="179.70" fill="#6b6b6b"/>
<polyline points="1553.30,924.80 1553.30,746.20 1599.10,746.20 1599.10,924.80" fill="none" stroke="#000" stroke-width="4.2"/>
<rect x="1676.70" y="853.21" width="50.80" height="71.59" fill="#a0a0a0"/>
<rect x="1752.50" y="784.13" width="50.70" height="140.67" fill="#a0a0a0"/>
<line x1="1450.00" y1="645.70" x2="1450.00" y2="925.90" stroke="#000" stroke-width="2.2" stroke-linecap="butt"/>
<line x1="1448.90" y1="924.80" x2="1828.50" y2="924.80" stroke="#000" stroke-width="2.2" stroke-linecap="butt"/>
<line x1="1443.60" y1="924.80" x2="1450.00" y2="924.80" stroke="#000" stroke-width="2.2" stroke-linecap="butt"/>
<text font-size="31.4" font-weight="700" text-anchor="end" fill="#000" stroke="#000" stroke-width="0.5" transform="translate(1443.00 935.90) scale(0.915 1)">0</text>
<line x1="1443.60" y1="869.20" x2="1450.00" y2="869.20" stroke="#000" stroke-width="2.2" stroke-linecap="butt"/>
<text font-size="31.4" font-weight="700" text-anchor="end" fill="#000" stroke="#000" stroke-width="0.5" transform="translate(1443.00 880.30) scale(0.915 1)">20</text>
<line x1="1443.60" y1="813.60" x2="1450.00" y2="813.60" stroke="#000" stroke-width="2.2" stroke-linecap="butt"/>
<text font-size="31.4" font-weight="700" text-anchor="end" fill="#000" stroke="#000" stroke-width="0.5" transform="translate(1443.00 824.70) scale(0.915 1)">40</text>
<line x1="1443.60" y1="758.00" x2="1450.00" y2="758.00" stroke="#000" stroke-width="2.2" stroke-linecap="butt"/>
<text font-size="31.4" font-weight="700" text-anchor="end" fill="#000" stroke="#000" stroke-width="0.5" transform="translate(1443.00 769.10) scale(0.915 1)">60</text>
<line x1="1443.60" y1="702.40" x2="1450.00" y2="702.40" stroke="#000" stroke-width="2.2" stroke-linecap="butt"/>
<text font-size="31.4" font-weight="700" text-anchor="end" fill="#000" stroke="#000" stroke-width="0.5" transform="translate(1443.00 713.50) scale(0.915 1)">80</text>
<line x1="1443.60" y1="646.80" x2="1450.00" y2="646.80" stroke="#000" stroke-width="2.2" stroke-linecap="butt"/>
<text font-size="31.4" font-weight="700" text-anchor="end" fill="#000" stroke="#000" stroke-width="0.5" transform="translate(1443.00 657.90) scale(0.915 1)">100</text>
<line x1="1500.00" y1="924.80" x2="1500.00" y2="931.20" stroke="#000" stroke-width="2.2" stroke-linecap="butt"/>
<line x1="1575.80" y1="924.80" x2="1575.80" y2="931.20" stroke="#000" stroke-width="2.2" stroke-linecap="butt"/>
<line x1="1702.00" y1="924.80" x2="1702.00" y2="931.20" stroke="#000" stroke-width="2.2" stroke-linecap="butt"/>
<line x1="1777.60" y1="924.80" x2="1777.60" y2="931.20" stroke="#000" stroke-width="2.2" stroke-linecap="butt"/>
<line x1="1500.30" y1="852.20" x2="1500.30" y2="871.70" stroke="#000" stroke-width="1.5" stroke-linecap="butt"/>
<line x1="1487.30" y1="852.20" x2="1513.30" y2="852.20" stroke="#000" stroke-width="1.5" stroke-linecap="butt"/>
<line x1="1487.30" y1="871.70" x2="1513.30" y2="871.70" stroke="#000" stroke-width="1.5" stroke-linecap="butt"/>
<line x1="1576.20" y1="732.50" x2="1576.20" y2="755.00" stroke="#000" stroke-width="1.5" stroke-linecap="butt"/>
<line x1="1563.20" y1="732.50" x2="1589.20" y2="732.50" stroke="#000" stroke-width="1.5" stroke-linecap="butt"/>
<line x1="1563.20" y1="755.00" x2="1589.20" y2="755.00" stroke="#000" stroke-width="1.5" stroke-linecap="butt"/>
<line x1="1702.00" y1="843.00" x2="1702.00" y2="863.00" stroke="#000" stroke-width="1.5" stroke-linecap="butt"/>
<line x1="1689.00" y1="843.00" x2="1715.00" y2="843.00" stroke="#000" stroke-width="1.5" stroke-linecap="butt"/>
<line x1="1689.00" y1="863.00" x2="1715.00" y2="863.00" stroke="#000" stroke-width="1.5" stroke-linecap="butt"/>
<line x1="1777.80" y1="770.00" x2="1777.80" y2="798.00" stroke="#000" stroke-width="1.5" stroke-linecap="butt"/>
<line x1="1764.80" y1="770.00" x2="1790.80" y2="770.00" stroke="#000" stroke-width="1.5" stroke-linecap="butt"/>
<line x1="1764.80" y1="798.00" x2="1790.80" y2="798.00" stroke="#000" stroke-width="1.5" stroke-linecap="butt"/>
<circle cx="1494.20" cy="813.60" r="5.60" fill="#000"/>
<circle cx="1507.00" cy="824.72" r="5.60" fill="#000"/>
<circle cx="1494.20" cy="860.86" r="5.60" fill="#000"/>
<circle cx="1480.70" cy="869.20" r="5.60" fill="#000"/>
<circle cx="1494.20" cy="880.32" r="5.60" fill="#000"/>
<circle cx="1507.00" cy="883.10" r="5.60" fill="#000"/>
<circle cx="1519.50" cy="880.32" r="5.60" fill="#000"/>
<circle cx="1480.70" cy="885.88" r="5.60" fill="#000"/>
<circle cx="1566.20" cy="699.62" r="5.60" fill="#000"/>
<circle cx="1585.70" cy="702.40" r="5.60" fill="#000"/>
<circle cx="1575.70" cy="721.86" r="5.60" fill="#000"/>
<circle cx="1595.40" cy="749.66" r="5.60" fill="#000"/>
<circle cx="1575.70" cy="760.78" r="5.60" fill="#000"/>
<circle cx="1556.40" cy="760.78" r="5.60" fill="#000"/>
<circle cx="1595.60" cy="771.90" r="5.60" fill="#000"/>
<circle cx="1556.40" cy="783.02" r="5.60" fill="#000"/>
<polygon points="1687.00,816.21 1698.00,816.21 1692.50,805.43" fill="#1a1a1a"/>
<polygon points="1706.20,824.55 1717.20,824.55 1711.70,813.77" fill="#1a1a1a"/>
<polygon points="1696.50,841.23 1707.50,841.23 1702.00,830.45" fill="#1a1a1a"/>
<polygon points="1716.20,860.69 1727.20,860.69 1721.70,849.91" fill="#1a1a1a"/>
<polygon points="1677.00,871.81 1688.00,871.81 1682.50,861.03" fill="#1a1a1a"/>
<polygon points="1696.50,877.37 1707.50,877.37 1702.00,866.59" fill="#1a1a1a"/>
<polygon points="1716.20,882.93 1727.20,882.93 1721.70,872.15" fill="#1a1a1a"/>
<polygon points="1677.00,894.05 1688.00,894.05 1682.50,883.27" fill="#1a1a1a"/>
<polygon points="1792.00,735.59 1803.00,735.59 1797.50,724.81" fill="#1a1a1a"/>
<polygon points="1772.00,743.93 1783.00,743.93 1777.50,733.15" fill="#1a1a1a"/>
<polygon points="1792.00,782.85 1803.00,782.85 1797.50,772.07" fill="#1a1a1a"/>
<polygon points="1752.50,791.19 1763.50,791.19 1758.00,780.41" fill="#1a1a1a"/>
<polygon points="1772.00,793.97 1783.00,793.97 1777.50,783.19" fill="#1a1a1a"/>
<polygon points="1792.00,796.75 1803.00,796.75 1797.50,785.97" fill="#1a1a1a"/>
<polygon points="1772.00,807.87 1783.00,807.87 1777.50,797.09" fill="#1a1a1a"/>
<polygon points="1772.00,863.47 1783.00,863.47 1777.50,852.69" fill="#1a1a1a"/>
<polyline points="1500.70,659.00 1500.70,650.70 1573.00,650.70 1573.00,659.00" fill="none" stroke="#000" stroke-width="1.8"/>
<polyline points="1577.50,658.00 1577.50,650.70 1775.50,650.70 1775.50,658.00" fill="none" stroke="#000" stroke-width="1.8"/>
<polyline points="1500.70,689.50 1500.70,682.50 1693.70,682.50 1693.70,689.50" fill="none" stroke="#000" stroke-width="1.8"/>
<polyline points="1697.50,689.50 1697.50,682.50 1776.70,682.50 1776.70,689.50" fill="none" stroke="#000" stroke-width="1.8"/>
<text font-size="16.3" text-anchor="middle" fill="#000" stroke="#000" stroke-width="0.45" transform="translate(1536.80 644.70) scale(1 1.04)">####</text>
<text font-size="17.4" text-anchor="middle" fill="#000" transform="translate(1676.70 644.00) scale(1 1)">ns</text>
<text font-size="17.4" text-anchor="middle" fill="#000" transform="translate(1597.50 675.30) scale(1 1)">ns</text>
<text font-size="31.3" font-weight="700" text-anchor="middle" fill="#000" transform="translate(1737.50 686.10) scale(1 1.04)">**</text>
<text font-size="30.1" font-weight="700" text-anchor="middle" fill="#000" transform="translate(1638.85 589.80) scale(1 1.02)">Total Scratching Bouts</text>
<text font-size="23.62" font-weight="700" text-anchor="middle" fill="#000" transform="translate(1387.40 785.70) rotate(-90) scale(1 1.02)">Total Scratching Bouts/60min</text>
<text font-size="36.4" font-weight="700" text-anchor="start" fill="#000" transform="translate(1342.30 563.00) scale(0.74 1)">F</text>
<circle cx="1834.90" cy="615.40" r="6.10" fill="#000"/>
<text font-size="23.85" text-anchor="start" fill="#000" transform="translate(1847.50 623.70) scale(1 1.02)">Non-anosmic</text>
<polygon points="1829.10,652.85 1840.70,652.85 1834.90,641.35" fill="#1a1a1a"/>
<text font-size="23.85" text-anchor="start" fill="#000" transform="translate(1848.40 654.80) scale(1 1.02)">Anosmic</text>
<text font-size="29.8" text-anchor="middle" fill="#000" transform="translate(1501.00 968.50) scale(1 1.04)">30</text>
<text font-size="29.8" text-anchor="middle" fill="#000" transform="translate(1576.90 968.50) scale(1 1.04)">30</text>
<text font-size="29.8" text-anchor="middle" fill="#000" transform="translate(1704.80 968.50) scale(1 1.04)">30</text>
<text font-size="29.8" text-anchor="middle" fill="#000" transform="translate(1780.80 968.50) scale(1 1.04)">30</text>
<text font-size="29.8" text-anchor="middle" fill="#000" transform="translate(1499.60 1017.00) scale(1 1.04)">30</text>
<text font-size="29.8" text-anchor="middle" fill="#000" transform="translate(1575.50 1017.00) scale(1 1.04)">100</text>
<text font-size="29.8" text-anchor="middle" fill="#000" transform="translate(1704.50 1017.00) scale(1 1.04)">30</text>
<text font-size="29.8" text-anchor="middle" fill="#000" transform="translate(1779.80 1017.00) scale(1 1.04)">100</text>
<text font-size="26" text-anchor="start" fill="#000" transform="translate(1843.30 965.80) scale(1 1.02)">Observer</text>
<text font-size="26" text-anchor="start" fill="#000" transform="translate(1843.30 1013.90) scale(1 1.02)">Demonstrator</text>
</g>
</svg>
</body></html>
